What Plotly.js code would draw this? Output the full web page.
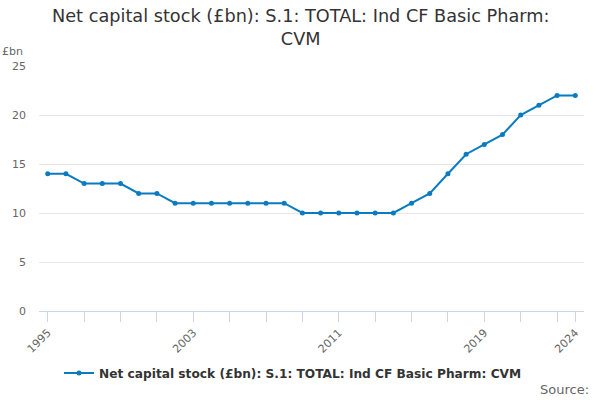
<!DOCTYPE html>
<html>
<head>
<meta charset="utf-8">
<script src="https://cdn.plot.ly/plotly-3.0.1.min.js"></script>
<style>html,body{margin:0;padding:0;background:#fff;}#chart{width:600px;height:400px;}</style>
</head>
<body>
<div id="chart"></div>
<script>
var years = [1995,1996,1997,1998,1999,2000,2001,2002,2003,2004,2005,2006,2007,2008,2009,2010,2011,2012,2013,2014,2015,2016,2017,2018,2019,2020,2021,2022,2023,2024];
var values = [14,14,13,13,13,12,12,11,11,11,11,11,11,11,10,10,10,10,10,10,11,12,14,16,17,18,20,21,22,22];
var tickYears = [1995,1997,1999,2001,2003,2005,2007,2009,2011,2013,2015,2017,2019,2021,2023,2024];
var labelYears = [1995,2003,2011,2019,2024];
var seriesName = 'Net capital stock (£bn): S.1: TOTAL: Ind CF Basic Pharm: CVM';
var titleText = 'Net capital stock (£bn): S.1: TOTAL: Ind CF Basic Pharm:<br>CVM';

var tickText = tickYears.map(function(y){ return labelYears.indexOf(y) >= 0 ? String(y) : ''; });

var trace = {
  x: years, y: values, type: 'scatter', mode: 'lines+markers', name: seriesName,
  line: {color: '#0b7bc1', width: 2},
  marker: {color: '#0b7bc1', size: 5}
};

var layout = {
  width: 600, height: 400,
  margin: {l: 39, r: 16, t: 66, b: 89},
  paper_bgcolor: '#fff', plot_bgcolor: '#fff',
  font: {family: 'DejaVu Sans, sans-serif', color: '#333'},
  showlegend: true,
  legend: {orientation: 'h', x: (293-39)/545, xanchor: 'center', y: -62/245, yanchor: 'middle', font: {size: 12.2, color: '#333', weight: 'bold'}, itemwidth: 30},
  xaxis: {
    range: [1994.52, 2024.48], tickmode: 'array', tickvals: tickYears, ticktext: tickText,
    tickangle: -45, ticks: 'outside', ticklen: 10, tickcolor: '#ccd6eb', tickwidth: 1,
    showline: true, linecolor: '#ccd6eb', linewidth: 1, showgrid: false, zeroline: false,
    tickfont: {size: 11, color: '#666'}
  },
  yaxis: {
    range: [0, 25], tickvals: [0,5,10,15,20,25], showgrid: true, gridcolor: '#e6e6e6', zeroline: false,
    ticks: '', ticklabelstandoff: 12, tickfont: {size: 11, color: '#666'}, showline: false
  },
  annotations: [
    {text: titleText, xref: 'paper', yref: 'paper', x: (300-39)/545, xanchor: 'center', y: 1 + (66-28)/245, yanchor: 'middle', showarrow: false, align: 'center', font: {size: 17.7, color: '#333'}},
    {text: '£bn', xref: 'paper', yref: 'paper', x: -39/545, xanchor: 'left', y: 1 + 14/245, yanchor: 'middle', showarrow: false, font: {size: 11, color: '#666'}},
    {text: 'Source:', xref: 'paper', yref: 'paper', x: 1 + 7/545, xanchor: 'right', y: -78/245, yanchor: 'middle', showarrow: false, font: {size: 13, color: '#666'}}
  ]
};

Plotly.newPlot('chart', [trace], layout, {displayModeBar: false, staticPlot: true});
</script>
</body>
</html>
